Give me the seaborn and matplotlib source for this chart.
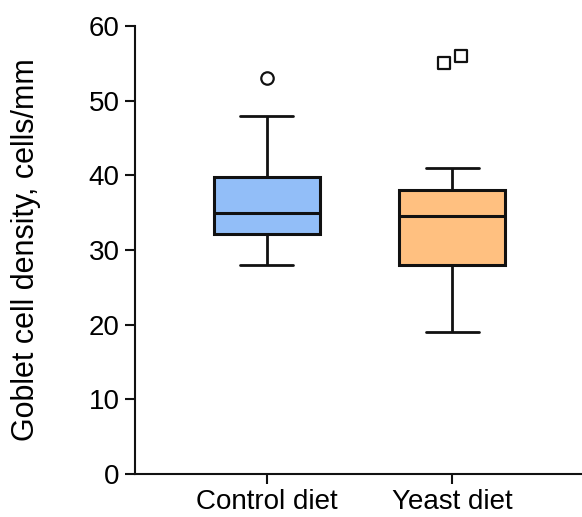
import numpy as np
import pandas as pd
import matplotlib
matplotlib.use("Agg")
import matplotlib.pyplot as plt
import seaborn as sns

categories = ["Control diet", "Yeast diet"]
control_values = [28, 30, 31, 32.2, 33, 34, 35, 36, 38, 39.8, 42, 48, 53]
yeast_values = [19, 24, 26, 28, 30, 33, 34.5, 35, 37, 38, 41, 55, 56]
colors = ["#92BEF8", "#FFC080"]
flier_markers = ["o", "s"]
y_ticks = [0, 10, 20, 30, 40, 50, 60]
y_label = "Goblet cell density, cells/mm"

df = pd.DataFrame({
    "diet": [categories[0]] * len(control_values) + [categories[1]] * len(yeast_values),
    "value": control_values + yeast_values,
})

sns.set_style("ticks")
plt.rcParams["font.family"] = ["Liberation Sans", "DejaVu Sans"]
plt.rcParams["text.color"] = "black"
plt.rcParams["axes.labelcolor"] = "black"
plt.rcParams["xtick.color"] = "black"
plt.rcParams["ytick.color"] = "black"

fig = plt.figure(figsize=(5.82, 5.17), dpi=100)
ax = fig.add_axes([0.232, 0.0832, 0.768, 0.8665])

sns.boxplot(data=df, x="diet", y="value", hue="diet", order=categories,
            hue_order=categories, palette=colors, saturation=1, width=0.57,
            showfliers=False, linewidth=2, linecolor="#111111", whis=1.5,
            legend=False, ax=ax,
            medianprops=dict(linewidth=2.2, color="#111111"),
            boxprops=dict(linewidth=2.2, edgecolor="#111111"))

# outliers (Tukey 1.5*IQR), slightly spread horizontally like the original
for i, vals in enumerate([control_values, yeast_values]):
    v = np.array(vals, dtype=float)
    q1, q3 = np.percentile(v, [25, 75])
    iqr = q3 - q1
    out = np.sort(v[(v > q3 + 1.5 * iqr) | (v < q1 - 1.5 * iqr)])
    n = len(out)
    offs = [0.0] if n == 1 else list(np.linspace(-0.046, 0.046, n))
    ax.scatter([i + o for o in offs], out, marker=flier_markers[i], s=80,
               facecolor="white", edgecolor="#111111", linewidth=1.6, zorder=5)

ax.set_ylim(0, 60)
ax.set_xlim(-0.71, 1.70)
ax.set_yticks(y_ticks)
ax.set_xlabel("")
ax.set_ylabel(y_label, fontsize=22)
ax.yaxis.set_label_coords(-0.21, 0.5)
ax.tick_params(axis="both", labelsize=20, length=7, width=1.5, color="#111111",
               labelcolor="black", pad=4)
for s in ["left", "bottom"]:
    ax.spines[s].set_linewidth(1.5)
    ax.spines[s].set_color("#111111")
sns.despine(ax=ax)

fig.savefig("out.png", dpi=100)
